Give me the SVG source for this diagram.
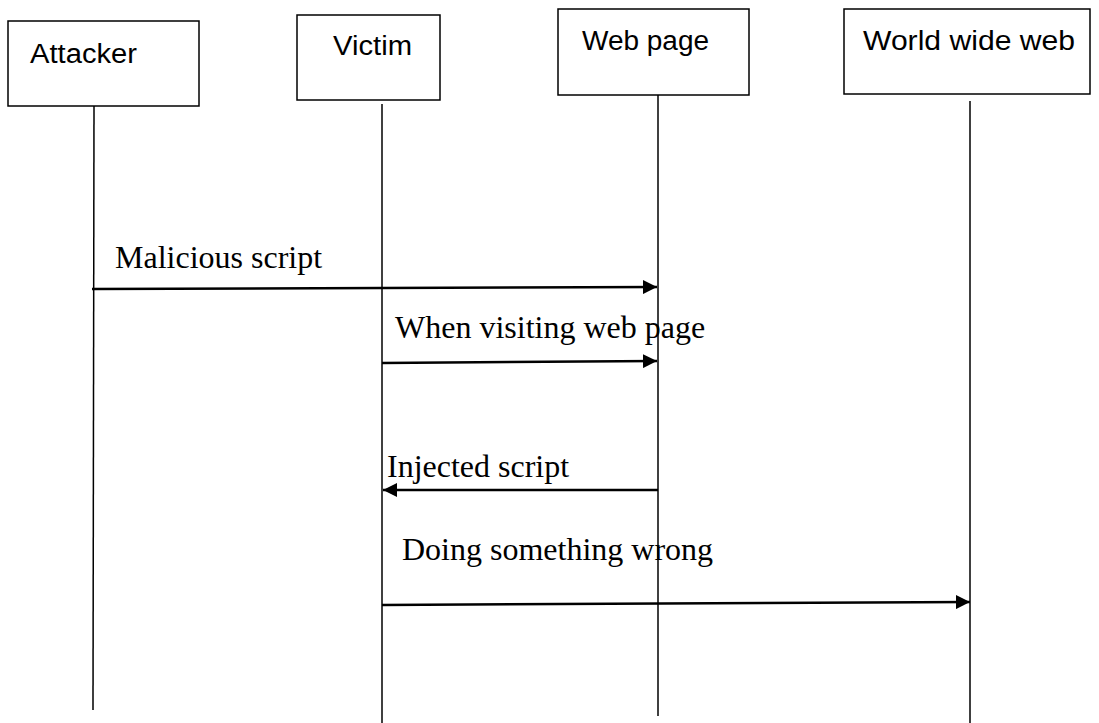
<svg xmlns="http://www.w3.org/2000/svg" width="1099" height="723" viewBox="0 0 1099 723">
  <style>
    .box { fill: #ffffff; stroke: #000000; stroke-width: 1.5; }
    .label { font-family: "Liberation Sans", Arial, sans-serif; font-size: 27px; fill: #000000; }
    .life { stroke: #000000; stroke-width: 1.5; fill: none; }
    .msg { stroke: #000000; stroke-width: 2.5; fill: none; marker-end: url(#head); }
    .msgtext { font-family: "Liberation Serif", "Times New Roman", serif; font-size: 32px; fill: #000000; }
  </style>
  <defs>
    <marker id="head" markerUnits="userSpaceOnUse" markerWidth="14" markerHeight="14" viewBox="0 0 14 14" refX="14" refY="7" orient="auto">
      <path d="M0,0 L14,7 L0,14 Z" fill="#000000"/>
    </marker>
  </defs>
  <rect width="1099" height="723" fill="#ffffff"/>

  <!-- participants -->
  <g id="attacker">
    <rect class="box" x="8" y="21" width="191" height="85"/>
    <text class="label" x="30" y="63" textLength="107" lengthAdjust="spacingAndGlyphs">Attacker</text>
  </g>
  <g id="victim">
    <rect class="box" x="297" y="15" width="143" height="85"/>
    <text class="label" x="333" y="55" textLength="79" lengthAdjust="spacingAndGlyphs">Victim</text>
  </g>
  <g id="webpage">
    <rect class="box" x="558" y="9" width="191" height="86"/>
    <text class="label" x="582" y="50" textLength="127" lengthAdjust="spacingAndGlyphs">Web page</text>
  </g>
  <g id="www">
    <rect class="box" x="844" y="9" width="246" height="85"/>
    <text class="label" x="863" y="50" textLength="212" lengthAdjust="spacingAndGlyphs">World wide web</text>
  </g>

  <!-- lifelines -->
  <g id="lifelines">
    <line class="life" x1="94" y1="106" x2="93" y2="710"/>
    <line class="life" x1="382" y1="104" x2="382" y2="723"/>
    <line class="life" x1="658" y1="95" x2="658" y2="716"/>
    <line class="life" x1="970" y1="101" x2="970" y2="723"/>
  </g>

  <!-- messages -->
  <g id="connectors">
    <line class="msg" x1="92" y1="289" x2="657" y2="287"/>
    <line class="msg" x1="382" y1="363" x2="657" y2="361"/>
    <line class="msg" x1="658" y1="490" x2="383" y2="490"/>
    <line class="msg" x1="382" y1="605" x2="970" y2="602"/>
  </g>

  <g id="message-labels">
    <text class="msgtext" x="115" y="268">Malicious script</text>
    <text class="msgtext" x="395" y="338">When visiting web page</text>
    <text class="msgtext" x="387" y="477">Injected script</text>
    <text class="msgtext" x="402" y="560">Doing something wrong</text>
  </g>
</svg>
